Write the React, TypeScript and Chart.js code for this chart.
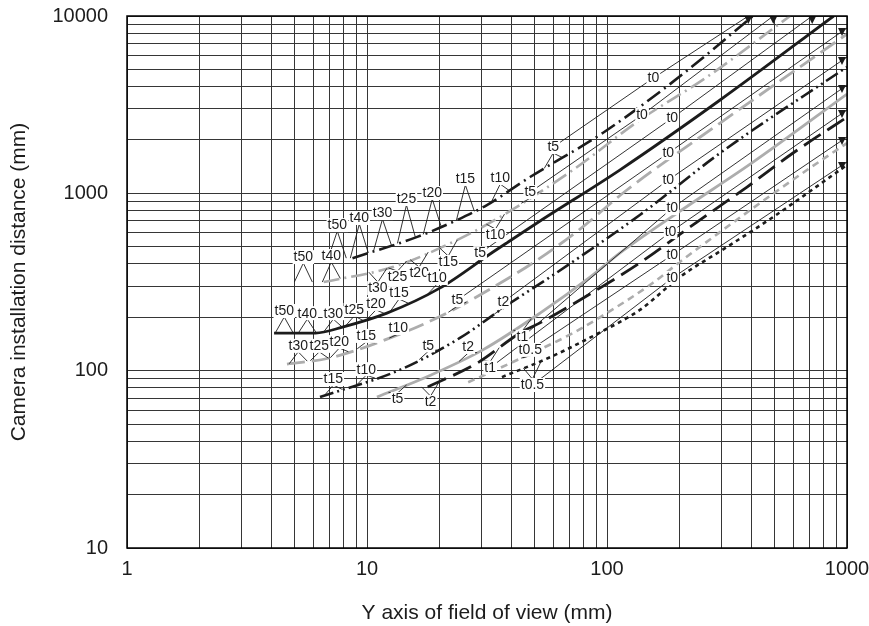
import React, { useEffect, useRef } from 'react';
import { Chart, registerables } from 'chart.js';

Chart.register(...registerables);

const FONT = "'Liberation Sans', Arial, Helvetica, sans-serif";
const INK = '#1c1c1c';
const GRAY = '#adadad';
const GRID = '#363636';

// grid / tick values
const xGrid = [1, 2, 3, 4, 5, 6, 7, 8, 9, 10, 20, 30, 40, 50, 60, 70, 80, 90, 100, 200, 300, 400, 500, 600, 700, 800, 900, 1000];
const yGrid = [10, 20, 30, 40, 50, 60, 70, 80, 90, 100, 200, 300, 400, 500, 600, 700, 800, 900, 1000, 2000, 3000, 4000, 5000, 6000, 7000, 8000, 9000, 10000];
const xTickLabels = [1, 10, 100, 1000];
const yTickLabels = [10, 100, 1000, 10000];

// curves (field of view Y [mm] -> installation distance [mm])
const c1X = [8.7, 16.2, 23.7, 31.6, 47.8, 96, 188, 406];
const c1Y = [431, 568, 706, 859, 1236, 2190, 4250, 10000];
const c2X = [6.6, 12.8, 23.7, 35.8, 72, 137, 261, 579];
const c2Y = [316, 384, 545, 735, 1353, 2590, 4530, 10000];
const c3X = [4.1, 6.1, 7.9, 12.1, 20.1, 33.5, 52.6, 113, 296, 880];
const c3Y = [163, 163, 176, 211, 292, 467, 698, 1353, 3360, 10000];
const c4X = [4.64, 7.0, 12.8, 21.5, 34.8, 52.6, 77.2, 121, 296, 1000];
const c4Y = [109, 118, 155, 211, 304, 431, 629, 1044, 2490, 7910];
const c5X = [6.37, 13.7, 24.4, 39.4, 59.6, 137, 296, 1000];
const c5Y = [71, 101, 153, 240, 346, 755, 1687, 5160];
const c6X = [11.0, 18.3, 30.4, 52.6, 85, 113, 196, 406, 1000];
const c6Y = [71, 94, 131, 211, 337, 460, 774, 1500, 3630];
const c7X = [17.9, 28.7, 43.4, 52.6, 87.4, 137, 237, 383, 596, 1000];
const c7Y = [81, 110, 163, 186, 277, 405, 689, 1085, 1688, 2690];
const c8X = [26.4, 44.7, 72.2, 93.5, 155, 201, 406, 681, 1000];
const c8Y = [86, 119, 163, 200, 312, 410, 826, 1353, 1920];
const c9X = [36.5, 57.9, 90.8, 137, 201, 316, 492, 1000];
const c9Y = [92, 119, 161, 220, 337, 498, 735, 1445];

// thickness labels (position in data units)
const c1Labels = ['t50', 't40', 't30', 't25', 't20', 't15', 't10', 't5', 't0'];
const c1LabX = [7.52, 9.29, 11.6, 14.6, 18.7, 25.7, 35.9, 59.7, 156];
const c1LabY = [662, 726, 774, 929, 1004, 1205, 1219, 1824, 4470];
const c2Labels = ['t50', 't40', 't30', 't25', 't20', 't15', 't10', 't5', 't0'];
const c2LabX = [5.43, 7.1, 11.1, 13.4, 16.5, 21.8, 34.3, 47.9, 140];
const c2LabY = [437, 443, 292, 337, 355, 410, 582, 1016, 2765];
const c3Labels = ['t50', 't40', 't30', 't25', 't20', 't15', 't10', 't5', 't0'];
const c3LabX = [4.52, 5.64, 7.24, 8.85, 10.9, 13.6, 19.6, 29.6, 187];
const c3LabY = [217, 211, 211, 220, 238, 274, 333, 460, 2660];
const c4Labels = ['t30', 't25', 't20', 't15', 't10', 't5', 't0'];
const c4LabX = [5.17, 6.33, 7.67, 9.93, 13.5, 23.8, 180];
const c4LabY = [138, 138, 145, 157, 174, 250, 1687];
const c5Labels = ['t15', 't10', 't5', 't2', 't0'];
const c5LabX = [7.24, 9.93, 18.0, 37.0, 180];
const c5LabY = [89.7, 102, 139, 244, 1189];
const c6Labels = ['t5', 't2', 't1', 't0'];
const c6LabX = [13.4, 26.4, 44.4, 187];
const c6LabY = [69.2, 136, 155, 826];
const c7Labels = ['t2', 't1', 't0'];
const c7LabX = [18.4, 32.6, 184];
const c7LabY = [66.5, 104, 605];
const c8Labels = ['t0.5', 't0'];
const c8LabX = [47.9, 187];
const c8LabY = [131, 449];
const c9Labels = ['t0.5', 't0'];
const c9LabX = [48.9, 187];
const c9LabY = [83, 333];

// where each t0 leader arrow ends
const arrowX = [388, 493, 716, 1000, 1000, 1000, 1000, 1000, 1000];
const arrowY = [10000, 10000, 10000, 8555, 5870, 4080, 2951, 2078, 1502];

type Series = {
  x: number[]; y: number[]; color: string; width: number; dash: number[];
  labels: string[]; lx: number[]; ly: number[];
};

const series: Series[] = [
  { x: c1X, y: c1Y, color: INK, width: 2.6, dash: [16, 5, 2, 5], labels: c1Labels, lx: c1LabX, ly: c1LabY },
  { x: c2X, y: c2Y, color: GRAY, width: 2.6, dash: [16, 5, 2, 5], labels: c2Labels, lx: c2LabX, ly: c2LabY },
  { x: c3X, y: c3Y, color: INK, width: 2.8, dash: [], labels: c3Labels, lx: c3LabX, ly: c3LabY },
  { x: c4X, y: c4Y, color: GRAY, width: 2.8, dash: [18, 7], labels: c4Labels, lx: c4LabX, ly: c4LabY },
  { x: c5X, y: c5Y, color: INK, width: 2.6, dash: [14, 4, 2, 4, 2, 4], labels: c5Labels, lx: c5LabX, ly: c5LabY },
  { x: c6X, y: c6Y, color: GRAY, width: 2.8, dash: [], labels: c6Labels, lx: c6LabX, ly: c6LabY },
  { x: c7X, y: c7Y, color: INK, width: 2.8, dash: [20, 8], labels: c7Labels, lx: c7LabX, ly: c7LabY },
  { x: c8X, y: c8Y, color: GRAY, width: 2.6, dash: [7, 5], labels: c8Labels, lx: c8LabX, ly: c8LabY },
  { x: c9X, y: c9Y, color: INK, width: 2.6, dash: [4, 4], labels: c9Labels, lx: c9LabX, ly: c9LabY },
];

function interpY(pts: number[][], px: number): number {
  if (px <= pts[0][0]) return pts[0][1];
  for (let i = 1; i < pts.length; i++) {
    if (px <= pts[i][0]) {
      const [x0, y0] = pts[i - 1];
      const [x1, y1] = pts[i];
      return y0 + ((y1 - y0) * (px - x0)) / (x1 - x0);
    }
  }
  return pts[pts.length - 1][1];
}

const annotationPlugin = {
  id: 'annotations',
  afterDatasetsDraw(chart: any) {
    const { ctx, chartArea, scales } = chart;
    const xs = scales.x;
    const ys = scales.y;
    ctx.save();
    ctx.beginPath();
    ctx.rect(chartArea.left, chartArea.top, chartArea.right - chartArea.left, chartArea.bottom - chartArea.top);
    ctx.clip();
    ctx.strokeStyle = INK;
    ctx.fillStyle = INK;
    ctx.lineWidth = 0.9;
    ctx.setLineDash([]);
    const boxes: { t: string; x: number; y: number }[] = [];
    series.forEach((s, i) => {
      const pts = s.x.map((v, k) => [xs.getPixelForValue(v), ys.getPixelForValue(s.y[k])]);
      const lab = s.lx.map((v, k) => [xs.getPixelForValue(v), ys.getPixelForValue(s.ly[k])]);
      lab.forEach(([px, py], k) => {
        boxes.push({ t: s.labels[k], x: px, y: py });
        if (s.labels[k] === 't0') return;
        const above = interpY(pts, px) > py;
        const ay = above ? py + 6 : py - 6;
        for (const dx of [-9, 9]) {
          const tx = px + dx;
          const ty = interpY(pts, tx);
          ctx.beginPath();
          ctx.moveTo(px, ay);
          ctx.lineTo(tx, ty);
          ctx.stroke();
        }
      });
      const n = lab.length;
      const ax = xs.getPixelForValue(arrowX[i]);
      const ay = ys.getPixelForValue(arrowY[i]);
      ctx.beginPath();
      if (n > 1) ctx.moveTo(lab[n - 2][0], lab[n - 2][1]);
      else ctx.moveTo(lab[n - 1][0], lab[n - 1][1]);
      ctx.lineTo(lab[n - 1][0], lab[n - 1][1]);
      ctx.lineTo(ax, ay);
      ctx.stroke();
      const tx = arrowX[i] >= 1000 ? ax - 5 : ax;
      const ty = ay;
      ctx.beginPath();
      ctx.moveTo(tx - 4, ty);
      ctx.lineTo(tx + 4, ty);
      ctx.lineTo(tx, ty + 8);
      ctx.closePath();
      ctx.fill();
    });
    ctx.font = `14px ${FONT}`;
    ctx.textAlign = 'center';
    ctx.textBaseline = 'middle';
    boxes.forEach((b) => {
      const w = ctx.measureText(b.t).width;
      ctx.fillStyle = '#ffffff';
      ctx.fillRect(b.x - w / 2 - 1, b.y - 7, w + 2, 14);
      ctx.fillStyle = INK;
      ctx.fillText(b.t, b.x, b.y + 0.5);
    });
    ctx.restore();
  },
  afterDraw(chart: any) {
    const { ctx, chartArea } = chart;
    ctx.save();
    ctx.strokeStyle = '#000';
    ctx.lineWidth = 1.5;
    ctx.setLineDash([]);
    ctx.strokeRect(chartArea.left, chartArea.top, chartArea.right - chartArea.left, chartArea.bottom - chartArea.top);
    ctx.restore();
  },
};

export default function App() {
  const ref = useRef<HTMLCanvasElement | null>(null);
  useEffect(() => {
    if (!ref.current) return;
    Chart.defaults.font.family = FONT;
    const chart = new Chart(ref.current, {
      type: 'line',
      data: {
        datasets: series.map((s) => ({
          data: s.x.map((v, k) => ({ x: v, y: s.y[k] })),
          borderColor: s.color,
          borderWidth: s.width,
          borderDash: s.dash,
          pointRadius: 0,
          fill: false,
          cubicInterpolationMode: 'monotone' as const,
        })),
      },
      options: {
        responsive: false,
        animation: false,
        events: [],
        layout: { padding: { left: 0, top: 16, right: 22, bottom: 0 } },
        plugins: { legend: { display: false }, tooltip: { enabled: false } },
        scales: {
          x: {
            type: 'logarithmic',
            min: 1,
            max: 1000,
            afterBuildTicks: (s: any) => {
              s.ticks = xGrid.map((v) => ({ value: v }));
            },
            afterFit: (s: any) => {
              s.height = 78;
              s.paddingLeft = 0;
              s.paddingRight = 0;
            },
            ticks: {
              autoSkip: false,
              maxRotation: 0,
              padding: 9,
              color: INK,
              font: { size: 20 },
              callback: (v: any) => (xTickLabels.includes(Number(v)) ? String(v) : ''),
            },
            grid: { color: GRID, lineWidth: 1, drawTicks: false },
            border: { display: false },
            title: {
              display: true,
              text: 'Y axis of field of view (mm)',
              color: INK,
              font: { size: 21 },
              padding: { top: 0, bottom: 0 },
            },
          },
          y: {
            type: 'logarithmic',
            min: 10,
            max: 10000,
            afterBuildTicks: (s: any) => {
              s.ticks = yGrid.map((v) => ({ value: v }));
            },
            afterFit: (s: any) => {
              s.width = 127;
              s.paddingTop = 0;
              s.paddingBottom = 0;
            },
            ticks: {
              autoSkip: false,
              padding: 19,
              color: INK,
              font: { size: 20 },
              callback: (v: any) => (yTickLabels.includes(Number(v)) ? String(v) : ''),
            },
            grid: { color: GRID, lineWidth: 1, drawTicks: false },
            border: { display: false },
            title: {
              display: true,
              text: 'Camera installation distance (mm)',
              color: INK,
              font: { size: 21 },
              padding: { top: 7, bottom: 0 },
            },
          },
        },
      } as any,
      plugins: [annotationPlugin],
    });
    return () => chart.destroy();
  }, []);
  return (
    <div style={{ position: 'absolute', left: 0, top: 0, width: 869, height: 626, background: '#fff' }}>
      <canvas ref={ref} width={869} height={626} />
    </div>
  );
}
